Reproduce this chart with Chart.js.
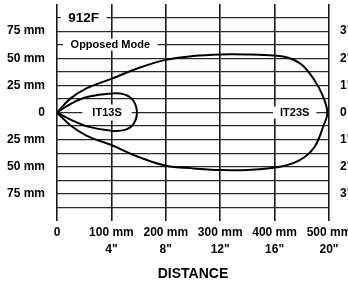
<!DOCTYPE html>
<html>
<head>
<meta charset="utf-8">
<script src="https://cdn.jsdelivr.net/npm/chart.js@4"></script>
<style>
  html, body { margin: 0; padding: 0; background: #fff; }
  #wrap { width: 348px; height: 288px; }
</style>
</head>
<body>
<div id="wrap"><canvas id="chart" width="348" height="288"></canvas></div>
<script>
// distance axis (mm) and its labels
const xTicks = [0, 100, 200, 300, 400, 500];
const xMmLabels = ['0', '100 mm', '200 mm', '300 mm', '400 mm', '500 mm'];
const xInchLabels = ['', '4"', '8"', '12"', '16"', '20"'];

// beam width axis (mm)
const yTicks = [75, 50, 25, 0, -25, -50, -75];
const yMmLabels = ['75 mm', '50 mm', '25 mm', '0', '25 mm', '50 mm', '75 mm'];
const yInchLabels = ['3"', '2"', '1"', '0', '1"', '2"', '3"'];

// IT23S response curve (distance mm, width mm)
const it23sX = [0, 25, 55, 100, 150, 200, 250, 300, 350, 400, 425, 450, 473, 488, 497,
                490, 473, 446, 410, 350, 300, 250, 200, 150, 100, 55, 25, 0];
const it23sY = [0, 13, 22.5, 31, 41, 48.5, 52, 53.5, 53.5, 52.5, 50.5, 44, 30, 16, 0,
                -12, -32, -44, -50, -53, -53, -51.5, -49, -41, -30, -21.5, -12, 0];

// IT13S response curve
const it13sX = [0, 27, 57, 100, 125, 140, 147, 140, 125, 100, 57, 27, 0];
const it13sY = [0, 8.5, 14.5, 17.6, 16.5, 11, 0, -11, -16, -16.8, -13, -7, 0];

const FONT = "'Liberation Sans', Arial, sans-serif";

function toPoints(xs, ys) {
    return xs.map((x, i) => ({ x: x, y: ys[i] }));
}

// text boxes sitting on the grid (white background hides the lines)
const notes = [
    { text: '912F', x: 49, y: 87.5, size: 13.5, padX: 7.5, h: 16 },
    { text: 'Opposed Mode', x: 98, y: 62.5, size: 11, padX: 7.5, h: 12 },
    { text: 'IT13S', x: 92, y: 0, size: 11, padX: 10, h: 16 },
    { text: 'IT23S', x: 437, y: 0, size: 11, padX: 7, h: 12 }
];

const notesPlugin = {
    id: 'notes',
    afterDatasetsDraw(chart) {
        const ctx = chart.ctx;
        const xs = chart.scales.x, ys = chart.scales.y;
        ctx.save();
        notes.forEach(n => {
            ctx.font = `bold ${n.size}px ${FONT}`;
            const w = ctx.measureText(n.text).width + n.padX * 2;
            const cx = xs.getPixelForValue(n.x);
            const cy = ys.getPixelForValue(n.y);
            ctx.fillStyle = '#fff';
            ctx.fillRect(cx - w / 2, cy - n.h / 2, w, n.h);
            ctx.fillStyle = '#000';
            ctx.textAlign = 'center';
            ctx.textBaseline = 'middle';
            ctx.fillText(n.text, cx, cy + 0.5);
        });
        ctx.restore();
    }
};

const curveStyle = {
    borderColor: '#000',
    borderWidth: 2,
    pointRadius: 0,
    showLine: true,
    fill: false,
    tension: 0.4
};

// keep label overflow from shrinking the plot area
function noPad(s) {
    s.paddingLeft = 0;
    s.paddingRight = 0;
    s.paddingTop = 0;
    s.paddingBottom = 0;
}

new Chart(document.getElementById('chart'), {
    type: 'scatter',
    data: {
        datasets: [
            Object.assign({ label: 'IT23S', data: toPoints(it23sX, it23sY) }, curveStyle),
            Object.assign({ label: 'IT13S', data: toPoints(it13sX, it13sY) }, curveStyle)
        ]
    },
    options: {
        responsive: false,
        animation: false,
        layout: { padding: { top: 4, left: 0, right: 0, bottom: 0 } },
        plugins: {
            legend: { display: false },
            tooltip: { enabled: false }
        },
        scales: {
            x: {
                type: 'linear',
                min: 0,
                max: 500,
                afterBuildTicks: s => { s.ticks = xTicks.map(v => ({ value: v })); },
                afterFit: s => { s.height = 67; noPad(s); },
                border: { display: false },
                grid: { color: '#1a1a1a', lineWidth: 1.6, drawTicks: false },
                ticks: {
                    autoSkip: false,
                    maxRotation: 0,
                    padding: 3.5,
                    color: '#000',
                    font: { family: FONT, size: 12, weight: 'bold', lineHeight: 17 / 12 },
                    callback: v => {
                        const i = xTicks.indexOf(v);
                        return xInchLabels[i] ? [xMmLabels[i], xInchLabels[i]] : xMmLabels[i];
                    }
                },
                title: {
                    display: true,
                    text: 'DISTANCE',
                    color: '#000',
                    padding: { top: 0, bottom: 7 },
                    font: { family: FONT, size: 14, weight: 'bold', lineHeight: 1 }
                }
            },
            y: {
                type: 'linear',
                position: 'left',
                min: -100,
                max: 100,
                afterFit: s => { s.width = 57; noPad(s); },
                border: { display: false },
                grid: {
                    drawTicks: false,
                    lineWidth: 1.2,
                    color: c => (Math.abs(c.tick.value) === 100 ? 'rgba(0,0,0,0)' : '#2a2a2a')
                },
                ticks: {
                    stepSize: 12.5,
                    autoSkip: false,
                    padding: 12,
                    color: '#000',
                    font: { family: FONT, size: 12, weight: 'bold' },
                    callback: v => {
                        const i = yTicks.indexOf(v);
                        return i >= 0 ? yMmLabels[i] : '';
                    }
                }
            },
            y2: {
                type: 'linear',
                position: 'right',
                min: -100,
                max: 100,
                afterFit: s => { s.width = 19; noPad(s); },
                border: { display: false },
                grid: { display: false, drawTicks: false },
                ticks: {
                    stepSize: 25,
                    autoSkip: false,
                    padding: 11,
                    color: '#000',
                    font: { family: FONT, size: 12, weight: 'bold' },
                    callback: v => {
                        const i = yTicks.indexOf(v);
                        return i >= 0 ? yInchLabels[i] : '';
                    }
                }
            }
        }
    },
    plugins: [notesPlugin]
});
</script>
</body>
</html>
